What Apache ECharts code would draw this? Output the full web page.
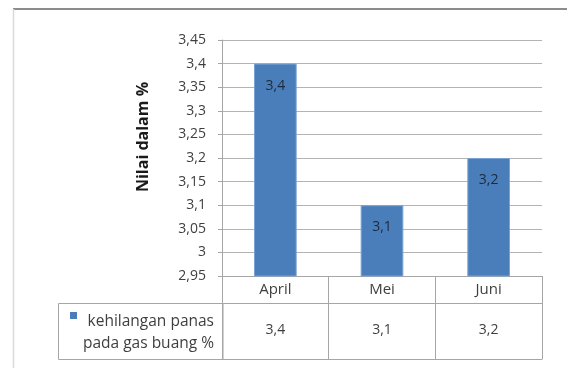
<!DOCTYPE html>
<html>
<head>
<meta charset="utf-8">
<script src="https://cdn.jsdelivr.net/npm/echarts@6/dist/echarts.min.js"></script>
<style>
  html, body { margin: 0; padding: 0; background: #fff; }
  #chart { width: 567px; height: 368px; }
</style>
</head>
<body>
<div id="chart"></div>
<script>
// Monthly heat loss through flue gas (%)
const months = ['April', 'Mei', 'Juni'];
const heatLoss = [3.4, 3.1, 3.2];
const seriesName = 'kehilangan panas pada gas buang %';
const legendLines = ['kehilangan panas', 'pada gas buang %'];
const yTicks = { min: 2.95, max: 3.45, step: 0.05 };

const FONT = 'Open Sans';
const GRAY = '#a6a6a6';
const TEXT = '#3f3f3f';
const fmt = v => String(parseFloat(Number(v).toFixed(2))).replace('.', ',');

const chart = echarts.init(document.getElementById('chart'), null, { renderer: 'canvas' });

chart.setOption({
  animation: false,
  textStyle: { fontFamily: FONT },
  grid: { left: 222, right: 25, top: 40, bottom: 92, containLabel: false },
  legend: {
    left: 65, top: 307,
    orient: 'vertical',
    itemWidth: 7, itemHeight: 7,
    itemGap: 0,
    icon: 'rect',
    selectedMode: false,
    itemStyle: { color: '#4a7ebb', borderWidth: 0 },
    formatter: () => legendLines.map(s => '{r|' + s + '}').join('\n'),
    textStyle: {
      fontFamily: FONT, fontSize: 15, color: TEXT,
      padding: [35, 0, 0, 0],
      rich: { r: { width: 132, align: 'right', lineHeight: 22, fontFamily: FONT, fontSize: 15.5, color: TEXT } }
    },
    data: [seriesName]
  },
  xAxis: [
    {
      type: 'category', data: months, position: 'bottom',
      axisLine: { lineStyle: { color: GRAY, width: 1 } },
      axisTick: { show: true, length: 27, lineStyle: { color: GRAY } },
      axisLabel: { fontFamily: FONT, fontSize: 15, color: TEXT, margin: 6 },
      splitLine: { show: false }
    },
    {
      type: 'category', data: heatLoss.map(fmt), position: 'bottom', offset: 27,
      axisLine: { lineStyle: { color: GRAY, width: 1 } },
      axisTick: { show: true, length: 56, lineStyle: { color: GRAY } },
      axisLabel: { fontFamily: FONT, fontSize: 14, color: TEXT, margin: 20 }
    },
    {
      type: 'category', data: months, position: 'bottom', offset: 83,
      axisLine: { lineStyle: { color: GRAY, width: 1 } },
      axisTick: { show: false },
      axisLabel: { show: false }
    }
  ],
  yAxis: {
    type: 'value',
    min: yTicks.min, max: yTicks.max, interval: yTicks.step,
    axisLine: { show: true, lineStyle: { color: GRAY } },
    axisTick: { show: true, length: 4, lineStyle: { color: GRAY } },
    axisLabel: { fontFamily: FONT, fontSize: 14, color: TEXT, margin: 16, formatter: fmt },
    splitLine: { lineStyle: { color: '#b3b3b3', width: 1 } }
  },
  series: [{
    name: seriesName,
    type: 'bar',
    xAxisIndex: 0,
    data: heatLoss,
    barWidth: '40%',
    itemStyle: { color: '#4a7ebb', borderColor: '#7aa3d3', borderWidth: 1 },
    label: {
      show: true, position: 'insideTop', distance: 15,
      formatter: p => fmt(p.value),
      fontFamily: FONT, fontSize: 14, color: '#1f2a3a'
    }
  }],
  graphic: [
    // outer chart frame
    { type: 'line', shape: { x1: 13, y1: 9, x2: 567, y2: 9 }, style: { stroke: '#8c8c8c', lineWidth: 2 } },
    { type: 'line', shape: { x1: 13.5, y1: 9, x2: 13.5, y2: 368 }, style: { stroke: '#d9d9d9', lineWidth: 1.5 } },
    // legend cell of the data table
    { type: 'rect', shape: { x: 58.5, y: 303.5, width: 164.5, height: 56 }, style: { fill: 'none', stroke: GRAY, lineWidth: 1 }, z: 0 },
    // axis title
    {
      type: 'text', x: 143, y: 137, rotation: Math.PI / 2,
      style: { text: 'Nilai dalam %', font: 'bold 16px ' + FONT, fill: '#1a1a1a', textAlign: 'center', textVerticalAlign: 'middle' }
    }
  ]
});
</script>
</body>
</html>
